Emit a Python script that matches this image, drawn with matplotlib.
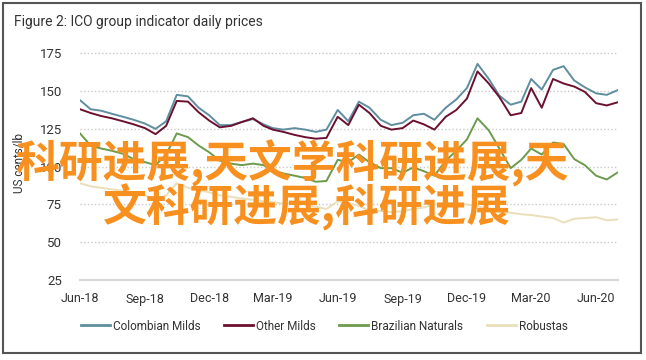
import datetime as dt
import matplotlib
matplotlib.use("Agg")
import matplotlib.pyplot as plt
from matplotlib import font_manager
from matplotlib.patches import Rectangle

# ---------------- data (semi-monthly) ----------------
colombian_milds = [144, 138, 137, 135, 133, 131, 128.5, 125, 130, 147.5,
                   146.5, 139, 134, 127.5, 127.5, 129.5, 131.5, 128, 125.5, 124.5,
                   125.5, 124.5, 123, 124.5, 137.5, 130, 143, 139, 131, 127.5,
                   129, 134, 135, 131, 139, 144.5, 152, 168, 158, 147,
                   141, 143, 158, 151, 164, 166.5, 157, 152.5, 148.5, 147.5, 150.5]
other_milds = [138, 135.5, 133.5, 132, 130, 128, 125.5, 121.5, 127, 143.5,
               143, 136, 130.5, 126, 127, 129.5, 132, 127, 124.5, 123,
               121, 119.5, 118.5, 119, 133, 127.5, 141, 135.5, 127, 124.5,
               125.5, 130.5, 128, 124.5, 133, 137.5, 145, 163, 155, 146,
               134, 135.5, 152, 139, 158, 155, 153, 149.5, 142, 140.5, 142.5]
brazilian_naturals = [122, 114, 112, 110.5, 108.5, 105, 103, 101, 108, 122,
                      119.5, 114, 109.5, 104, 102, 101, 102, 101, 97.5, 95.5,
                      94, 92.5, 90, 90.5, 104.5, 103, 108, 103, 99, 99,
                      96, 99.5, 97, 94, 104, 110.5, 118, 132, 124, 112,
                      99, 104.5, 112, 108, 116, 115, 105, 101, 94, 91.5, 96]
robustas = [89, 87, 86, 85, 84, 83, 81, 78.5, 81, 89,
            86, 84.5, 83, 81, 80, 79, 78, 77, 76.5, 75.5,
            76, 75, 73.5, 72, 77, 76, 74, 71, 70.5, 70,
            70.5, 72, 73, 75, 76, 75.5, 75, 74, 71.5, 70,
            69.5, 68.5, 68, 67, 66, 63, 65.5, 66, 66.5, 64.5, 65]

series_names = ["Colombian Milds", "Other Milds", "Brazilian Naturals", "Robustas"]
series_colors = ["#5e8ea0", "#6b1030", "#6c9b4c", "#e9dfbb"]
y_ticks = [25, 50, 75, 100, 125, 150, 175]
x_tick_labels = ["Jun-18", "Sep-18", "Dec-18", "Mar-19", "Jun-19",
                 "Sep-19", "Dec-19", "Mar-20", "Jun-20"]
title_text = "Figure 2: ICO group indicator daily prices"
y_label = "US cents/lb"
watermark_lines = ["科研进展,天文学科研进展,天", "文科研进展,科研进展"]

# dates: 1st and 16th of each month, Jun 2018 .. Jul 2020
dates = []
y, m = 2018, 6
while len(dates) < len(colombian_milds):
    dates.append(dt.date(y, m, 1))
    if len(dates) < len(colombian_milds):
        dates.append(dt.date(y, m, 16))
    m += 1
    if m > 12:
        m, y = 1, y + 1
tick_dates = []
y, m = 2018, 6
for _ in x_tick_labels:
    tick_dates.append(dt.date(y, m, 1))
    m += 3
    if m > 12:
        m, y = m - 12, y + 1

# ---------------- fonts ----------------
avail = {f.name for f in font_manager.fontManager.ttflist}
base_font = next((f for f in ["Liberation Sans Narrow", "Roboto", "Lato", "DejaVu Sans"] if f in avail))
plt.rcParams["font.family"] = [base_font, "DejaVu Sans"]

W, H = 646, 360
fig = plt.figure(figsize=(W / 100, H / 100), dpi=100)
fig.patch.set_facecolor("white")

ax_left, ax_right, ax_bottom, ax_top = 80, 618, 280, 53.3
ax = fig.add_axes([ax_left / W, 1 - ax_bottom / H, (ax_right - ax_left) / W, (ax_bottom - ax_top) / H])

series = [colombian_milds, other_milds, brazilian_naturals, robustas]
order = [3, 2, 0, 1]
for i in order:
    ax.plot(dates, series[i], color=series_colors[i], lw=1.4, zorder=3 + (i == 1), label=series_names[i],
            solid_joinstyle="round")

ax.set_ylim(25, 175)
ax.set_xlim(dt.date(2018, 6, 1), dt.date(2020, 7, 2))
ax.set_yticks(y_ticks)
ax.set_xticks(tick_dates)
ax.set_xticklabels(x_tick_labels)
for yt in y_ticks[1:]:
    ax.axhline(yt, color="#c8c8c8", lw=1.0, ls=(0, (1, 1.6)), zorder=1, clip_on=False)
ax.axhline(25, color="#d9d9d9", lw=1.6, zorder=2, clip_on=False)
for s in ax.spines.values():
    s.set_visible(False)
ax.tick_params(axis="both", length=0, labelsize=9, colors="#333333")
ax.tick_params(axis="y", pad=13, labelsize=9.5)
ax.tick_params(axis="x", pad=9)
ax.set_facecolor("none")

fig.text(20 / W, 1 - 163 / H, y_label, rotation=90, ha="center", va="center",
         fontsize=8.5, color="#333333")
fig.text(14 / W, 1 - 22 / H, title_text, ha="left", va="center", fontsize=10, color="#333333")

handles, labels = ax.get_legend_handles_labels()
hmap = dict(zip(labels, handles))
leg = fig.legend([hmap[n] for n in series_names], series_names, loc="center",
                 bbox_to_anchor=(0.502, 1 - 326 / H), ncol=4, frameon=False,
                 fontsize=8.5, handlelength=2.45, handletextpad=0.25, columnspacing=2.0)
for t in leg.get_texts():
    t.set_color("#333333")
for l in leg.get_lines():
    l.set_linewidth(2)

# border
fig.add_artist(Rectangle((3 / W, 1 - 353 / H), 638 / W, 350 / H, transform=fig.transFigure,
                         fill=False, edgecolor="#555555", lw=1.5))

# watermark text
wm_font = ["Noto Sans CJK SC", "DejaVu Sans"]
fig.text(15 / W, 1 - 163 / H, watermark_lines[0], ha="left", va="center", fontsize=31.5,
         color="#f7901e", family=wm_font, fontweight="bold", zorder=10)
fig.text(103 / W, 1 - 207 / H, watermark_lines[1], ha="left", va="center", fontsize=31.5,
         color="#f7901e", family=wm_font, fontweight="bold", zorder=10)

fig.savefig("out.png", dpi=100)
